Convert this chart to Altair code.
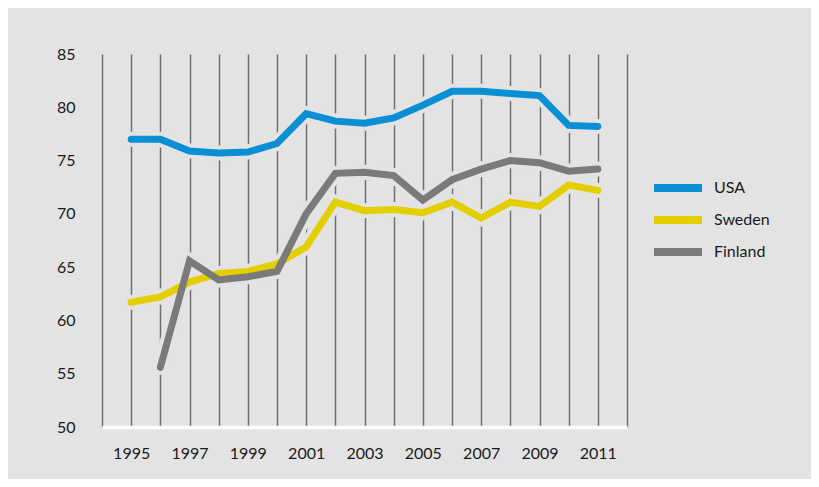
import altair as alt
import pandas as pd

years = list(range(1995, 2012))
usa = [77.0, 77.0, 75.9, 75.7, 75.8, 76.6, 79.4, 78.7, 78.5, 79.0, 80.2, 81.5, 81.5, 81.3, 81.1, 78.3, 78.2]
sweden = [61.7, 62.2, 63.6, 64.4, 64.6, 65.3, 66.9, 71.1, 70.3, 70.4, 70.1, 71.1, 69.6, 71.1, 70.7, 72.7, 72.2]
finland_years = list(range(1996, 2012))
finland = [55.6, 65.6, 63.8, 64.1, 64.6, 70.0, 73.8, 73.9, 73.6, 71.3, 73.2, 74.2, 75.0, 74.8, 74.0, 74.2]

series = ["USA", "Sweden", "Finland"]
colors = ["#0a8fd4", "#e3cf00", "#7a7a7a"]
bg = "#e3e3e3"

rows = []
for y, v in zip(years, usa):
    rows.append({"year": y, "value": v, "country": "USA"})
for y, v in zip(years, sweden):
    rows.append({"year": y, "value": v, "country": "Sweden"})
for y, v in zip(finland_years, finland):
    rows.append({"year": y, "value": v, "country": "Finland"})
df = pd.DataFrame(rows)

font = "Lato"

x = alt.X("year:Q", title=None,
          scale=alt.Scale(domain=[1994, 2012], nice=False, zero=False),
          axis=alt.Axis(values=list(range(1994, 2013)),
                        labelExpr="datum.value % 2 == 1 ? toString(datum.value) : ''",
                        grid=True, gridColor="#6f6f6f", gridWidth=1.5,
                        ticks=False, domain=True, domainColor="#ffffff", domainWidth=3.5,
                        labelPadding=18, labelFontSize=16, labelColor="#1a1a1a",
                        labelFont=font))
y = alt.Y("value:Q", title=None,
          scale=alt.Scale(domain=[50, 85], nice=False, zero=False),
          axis=alt.Axis(values=[50, 55, 60, 65, 70, 75, 80, 85], grid=False,
                        ticks=False, domain=False, labelPadding=27,
                        labelFontSize=16, labelColor="#1a1a1a", labelFont=font))

halo = alt.Chart(df).mark_line(strokeWidth=15, strokeCap="round", color=bg).encode(
    x=x, y=y, detail="country:N",
    order="year:Q")

lines = alt.Chart(df).mark_line(strokeWidth=7, strokeCap="round").encode(
    x=x, y=y,
    color=alt.Color("country:N",
                    scale=alt.Scale(domain=series, range=colors),
                    sort=series,
                    legend=alt.Legend(title=None, orient="none", legendX=568, legendY=126,
                                      symbolType="M-6,0L6,0", symbolStrokeWidth=8,
                                      symbolSize=64, labelFontSize=16, labelFont=font,
                                      labelColor="#1a1a1a", labelOffset=28, rowPadding=0)),
    order="year:Q")

chart = alt.layer(halo, lines).properties(
    width=525, height=373,
    background=bg,
    padding={"left": 94, "top": 46, "right": 184, "bottom": 52},
    autosize=alt.AutoSizeParams(type="none"),
).configure_view(stroke=None, fill=bg).configure_legend(symbolStrokeColor=None)

chart.save("out.html", embed_options={"renderer": "svg", "actions": False})
